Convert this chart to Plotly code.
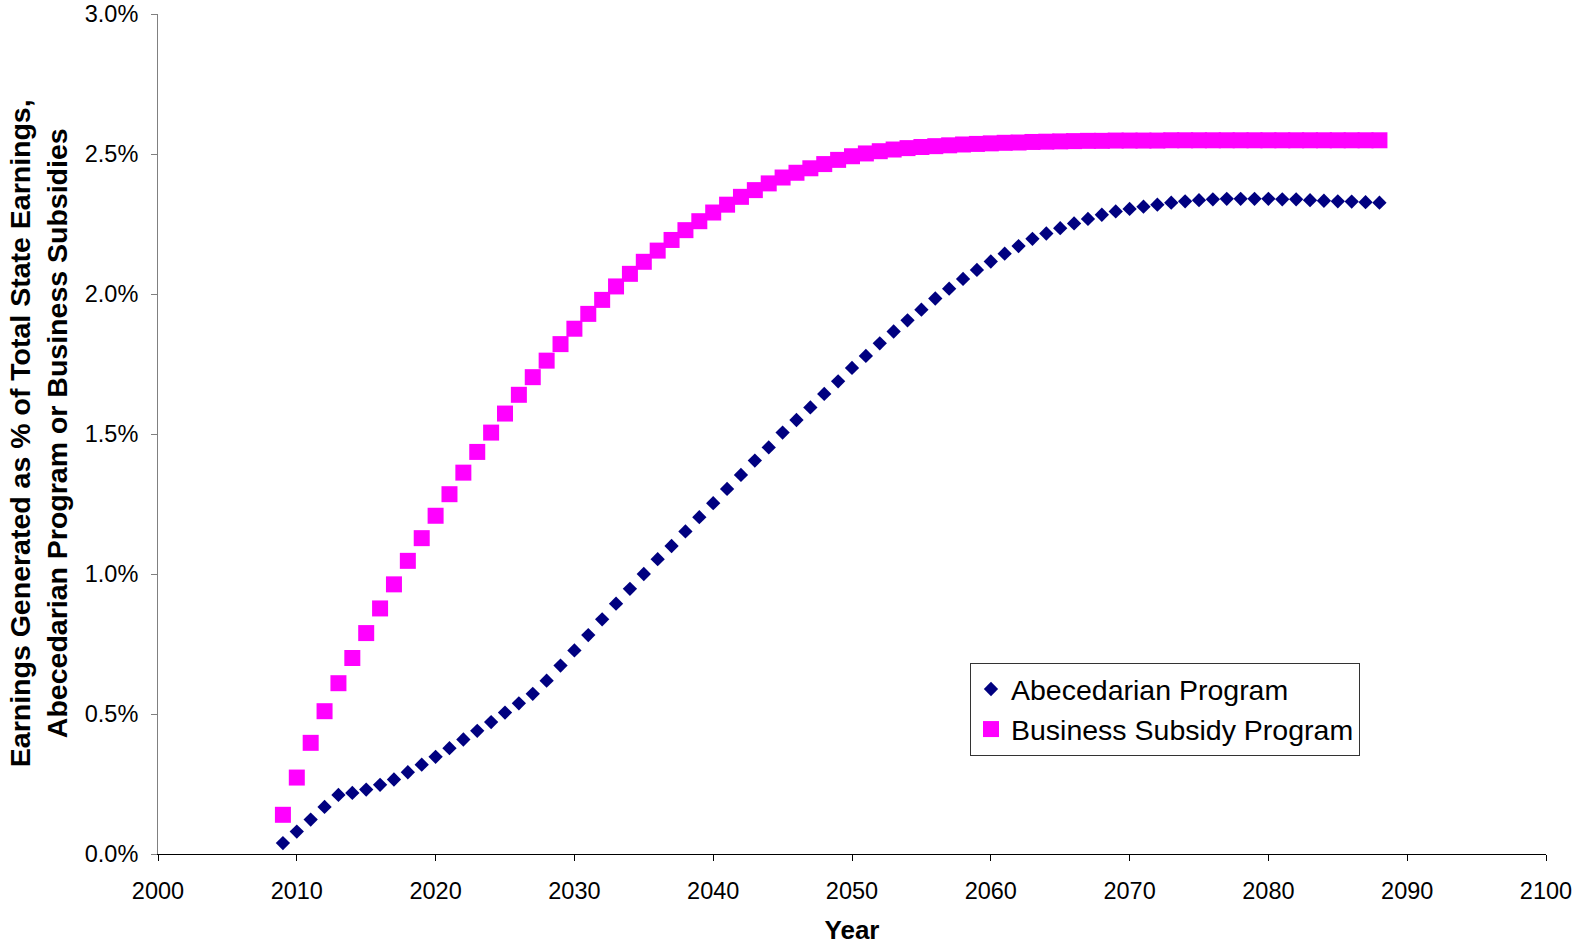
import plotly.graph_objects as go

# Program years
years = list(range(2009, 2089))

# Earnings generated as % of total state earnings
abecedarian = [
    0.039, 0.080, 0.123, 0.168, 0.211, 0.218, 0.230, 0.247, 0.266, 0.292,
    0.319, 0.347, 0.378, 0.409, 0.440, 0.471, 0.505, 0.538, 0.572, 0.619,
    0.673, 0.727, 0.782, 0.838, 0.894, 0.947, 1.000, 1.053, 1.100, 1.152,
    1.203, 1.253, 1.304, 1.354, 1.405, 1.452, 1.505, 1.550, 1.595, 1.643,
    1.688, 1.736, 1.779, 1.824, 1.866, 1.906, 1.944, 1.984, 2.019, 2.054,
    2.086, 2.116, 2.144, 2.171, 2.197, 2.216, 2.235, 2.252, 2.268, 2.283,
    2.295, 2.304, 2.312, 2.319, 2.326, 2.331, 2.335, 2.338, 2.340, 2.340,
    2.340, 2.340, 2.338, 2.338, 2.335, 2.333, 2.331, 2.330, 2.328, 2.326,
]

business_subsidy = [
    0.140, 0.273, 0.397, 0.510, 0.610, 0.700, 0.789, 0.877, 0.963, 1.047,
    1.128, 1.208, 1.285, 1.362, 1.436, 1.505, 1.573, 1.640, 1.703, 1.762,
    1.821, 1.876, 1.929, 1.979, 2.027, 2.072, 2.115, 2.155, 2.193, 2.228,
    2.260, 2.291, 2.319, 2.347, 2.371, 2.395, 2.416, 2.433, 2.449, 2.464,
    2.479, 2.492, 2.502, 2.510, 2.516, 2.521, 2.525, 2.528, 2.531, 2.534,
    2.536, 2.538, 2.540, 2.541, 2.543, 2.544, 2.545, 2.546, 2.547, 2.547,
    2.548, 2.548, 2.548, 2.548, 2.549, 2.549, 2.549, 2.549, 2.549, 2.549,
    2.549, 2.549, 2.549, 2.549, 2.549, 2.549, 2.549, 2.549, 2.549, 2.549,
]

x_ticks = list(range(2000, 2101, 10))
y_ticks = [0.0, 0.5, 1.0, 1.5, 2.0, 2.5, 3.0]

FONT = "Liberation Sans, Arial, sans-serif"

fig = go.Figure()
fig.add_trace(go.Scatter(
    x=years, y=abecedarian, mode="markers", name="Abecedarian Program",
    marker=dict(symbol="diamond", size=11, color="#000080",
                line=dict(width=0)),
    cliponaxis=False,
))
fig.add_trace(go.Scatter(
    x=years, y=business_subsidy, mode="markers", name="Business Subsidy Program",
    marker=dict(symbol="square", size=16, color="#FF00FF",
                line=dict(width=0)),
    cliponaxis=False,
))

fig.update_layout(
    width=1572, height=945,
    margin=dict(l=158, r=26, t=14, b=91),
    paper_bgcolor="white", plot_bgcolor="white",
    font=dict(family=FONT, color="black"),
    showlegend=True,
    legend=dict(
        x=0.585, y=0.2274, xanchor="left", yanchor="top",
        bgcolor="white", bordercolor="#333333", borderwidth=1,
        font=dict(family=FONT, size=28.5, color="black"),
        itemclick=False,
    ),
    xaxis=dict(
        range=[2000, 2100], tickvals=x_ticks, ticktext=[str(v) for v in x_ticks],
        automargin=False, ticklabeloverflow="allow",
        showgrid=False, zeroline=False,
        showline=True, linecolor="black", linewidth=1,
        ticks="outside", ticklen=6, tickcolor="black",
        tickfont=dict(family=FONT, size=23.5, color="black"),
        ticklabelstandoff=10,
        title=dict(text="<b>Year</b>", font=dict(family=FONT, size=26, color="black"),
                   standoff=22),
    ),
    yaxis=dict(
        range=[0, 3.0], tickvals=y_ticks,
        ticktext=[f"{v:.1f}%" for v in y_ticks],
        automargin=False, ticklabeloverflow="allow",
        showgrid=False, zeroline=False,
        showline=True, linecolor="#808080", linewidth=1,
        ticks="outside", ticklen=6, tickcolor="#808080",
        tickfont=dict(family=FONT, size=23.5, color="black"),
        ticklabelstandoff=8,
    ),
    annotations=[dict(
        text="<b>Earnings Generated as % of Total State Earnings,<br>"
             "Abecedarian Program or Business Subsidies</b>",
        xref="paper", yref="paper",
        x=(38 - 158) / 1388, y=0.501,
        xanchor="center", yanchor="middle",
        textangle=-90, showarrow=False,
        font=dict(family=FONT, size=28.5, color="black"),
    )],
)

fig.write_html("out.html")
